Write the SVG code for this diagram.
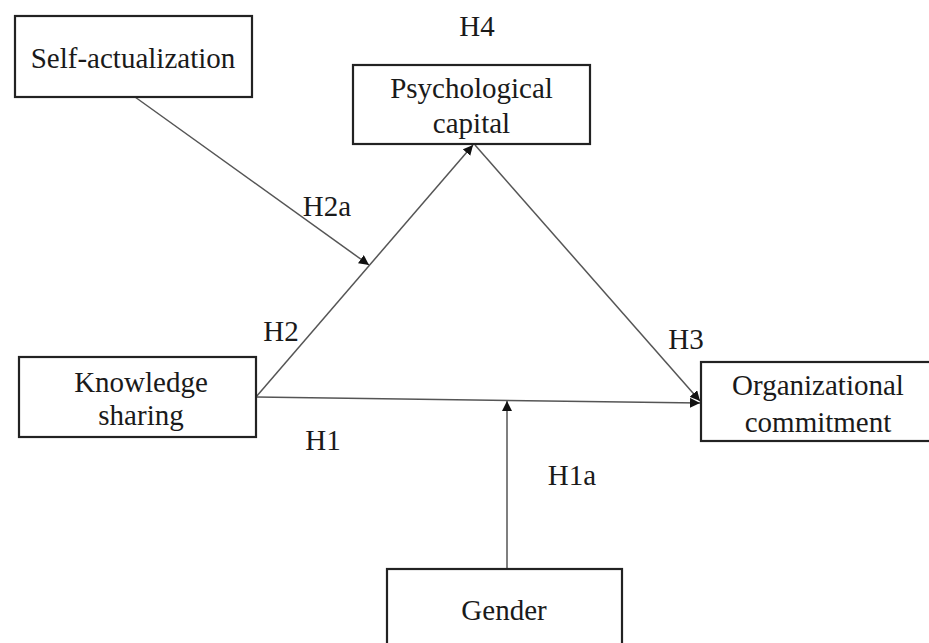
<svg xmlns="http://www.w3.org/2000/svg" width="929" height="643" viewBox="0 0 929 643">
<style>
.box{fill:#fff;stroke:#222;stroke-width:2.2}
.t{font-family:"Liberation Serif","Times New Roman",serif;font-size:29px;fill:#1a1a1a;text-anchor:middle}
.c{stroke:#555;stroke-width:1.5;fill:none}
</style>
<defs>
<marker id="ah" viewBox="0 0 10 10" refX="10" refY="5" markerWidth="10" markerHeight="10" markerUnits="userSpaceOnUse" orient="auto">
<path d="M0,0 L10,5 L0,10 z" fill="#111"/>
</marker>
</defs>
<rect width="929" height="643" fill="#fff"/>
<g id="connectors">
<line class="c" x1="135" y1="97" x2="369" y2="265" marker-end="url(#ah)"/>
<line class="c" x1="256" y1="397" x2="473" y2="145" marker-end="url(#ah)"/>
<line class="c" x1="475" y1="145" x2="700" y2="401" marker-end="url(#ah)"/>
<line class="c" x1="256" y1="397" x2="700" y2="403" marker-end="url(#ah)"/>
<line class="c" x1="507" y1="569" x2="507" y2="401" marker-end="url(#ah)"/>
</g>
<g id="labels">
<text class="t" x="477" y="36">H4</text>
<text class="t" x="327" y="216">H2a</text>
<text class="t" x="281" y="341">H2</text>
<text class="t" x="686" y="349">H3</text>
<text class="t" x="323" y="450">H1</text>
<text class="t" x="572" y="485">H1a</text>
</g>
<g id="self-actualization">
<rect class="box" x="15" y="16" width="237" height="81"/>
<text class="t" x="133" y="68">Self-actualization</text>
</g>
<g id="psychological-capital">
<rect class="box" x="353" y="65" width="237" height="79"/>
<text class="t" x="471.5" y="98">Psychological</text>
<text class="t" x="471.5" y="133">capital</text>
</g>
<g id="knowledge-sharing">
<rect class="box" x="19" y="357" width="237" height="80"/>
<text class="t" x="141" y="392">Knowledge</text>
<text class="t" x="141" y="425">sharing</text>
</g>
<g id="organizational-commitment">
<rect class="box" x="701" y="362" width="235" height="79"/>
<text class="t" x="818" y="395">Organizational</text>
<text class="t" x="818" y="432">commitment</text>
</g>
<g id="gender">
<rect class="box" x="387" y="569" width="235" height="90"/>
<text class="t" x="504" y="620">Gender</text>
</g>
</svg>
